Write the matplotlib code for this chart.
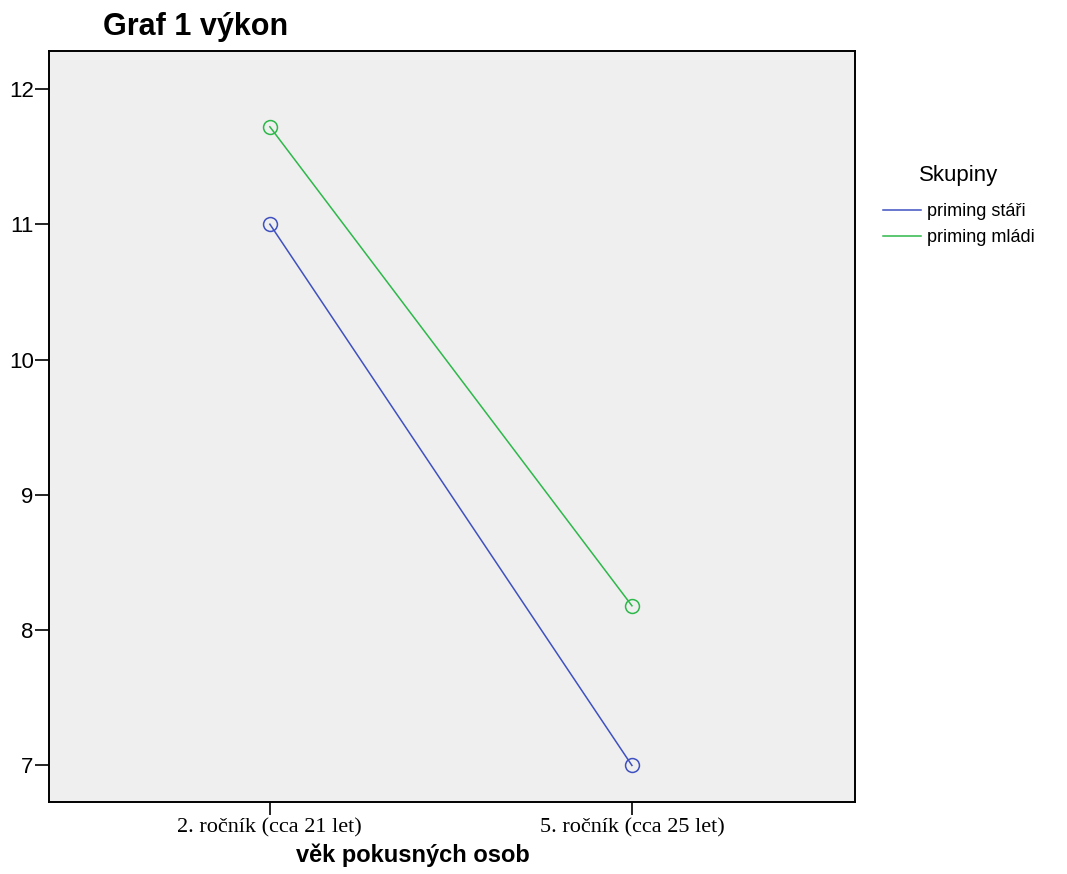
import matplotlib.pyplot as plt

categories = ["2. ročník (cca 21 let)", "5. ročník (cca 25 let)"]
stari = [11.0, 7.0]
mladi = [11.72, 8.18]
y_ticks = [7, 8, 9, 10, 11, 12]

fig = plt.figure(figsize=(10.67, 8.74), dpi=100)
ax = fig.add_axes([49 / 1067, 1 - 802 / 874, (855 - 49) / 1067, (802 - 51) / 874])
ax.set_facecolor("#efefef")

x = list(range(len(categories)))
ax.plot(x, stari, color="#3f51c0", lw=1.1, marker="o", ms=10,
        mfc="none", mec="#3f51c0", mew=1.1, label="priming stáři")
ax.plot(x, mladi, color="#2db84a", lw=1.1, marker="o", ms=10,
        mfc="none", mec="#2db84a", mew=1.1, label="priming mládi")

ax.set_xlim(-0.61, 1.616)
ax.set_ylim(6.73, 12.28)
ax.set_xticks(x)
ax.set_xticklabels(categories, fontfamily="Liberation Serif", fontsize=16)
ax.set_yticks(y_ticks)
ax.set_yticklabels([str(v) for v in y_ticks], fontfamily="Liberation Sans", fontsize=16)
ax.tick_params(axis="y", length=10, width=1.2, color="black", pad=1)
ax.tick_params(axis="x", length=9, width=1.2, color="black", pad=3)
for s in ax.spines.values():
    s.set_linewidth(1.4)
    s.set_color("black")

ax.set_xlabel("věk pokusných osob", fontfamily="Liberation Sans", fontweight="bold",
              fontsize=17)
ax.xaxis.set_label_coords((413 - 49) / 806, -(855 - 802) / 751, transform=ax.transAxes)
ax.xaxis.label.set_va("center")
fig.text(103 / 1067, 1 - 27 / 874, "Graf 1 výkon", fontfamily="Liberation Sans",
         fontweight="bold", fontsize=22, va="center", ha="left")

leg = ax.legend(loc="upper left", bbox_to_anchor=(867 / 1067, 1 - 149 / 874),
                bbox_transform=fig.transFigure, frameon=False, title="Skupiny",
                prop={"family": "Liberation Sans", "size": 13}, handlelength=2.1,
                handletextpad=0.3, labelspacing=0.5, markerscale=0)
leg.get_title().set_fontsize(16)
leg.get_title().set_fontfamily("Liberation Sans")
leg._legend_box.sep = 12
for h in leg.legend_handles:
    h.set_marker("")

fig.savefig("out.png", dpi=100)
